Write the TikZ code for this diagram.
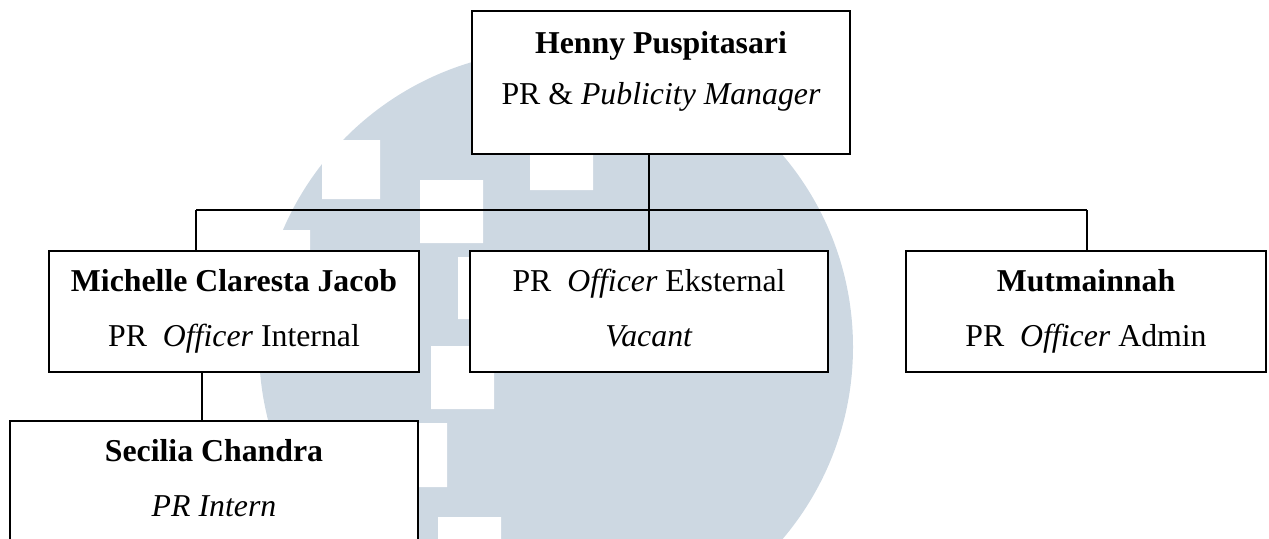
\documentclass[tikz,border=0pt]{standalone}
\usepackage{fontspec}
\setmainfont{Liberation Serif}

\definecolor{logoblue}{RGB}{205,216,226}
\newcommand{\lowdepth}[1]{\rule[-#1]{0pt}{#1}}

\tikzset{
	orgbox/.style={draw, fill=white, line width=1pt, anchor=north, align=center, inner sep=0pt,
		minimum height=60.5pt, font=\fontsize{15.9}{27.5}\selectfont}
}

\begin{document}
\begin{tikzpicture}[x=0.5pt, y=-0.5pt, line width=0.9pt]
	\useasboundingbox (0,0) rectangle (1269,538);
	\clip (0,0) rectangle (1269,538);
	% logo in the background
	\fill[logoblue] (556,347) circle (148.5pt);
	\fill[white] (322,140) rectangle (380,199)	(420,180) rectangle (483,243)
		(530,130) rectangle (593,190)	(250,230) rectangle (310,260)
		(458,257) rectangle (520,319)	(431,346) rectangle (494,409)
		(400,423) rectangle (447,487)	(438,517) rectangle (501,560);

	\node (mgr) [orgbox, minimum width=189pt, minimum height=71.5pt,
		font=\fontsize{15.9}{25.5}\selectfont] at (661,10)
		{\textbf{Henny Puspitasari}\\PR \& \textit{Publicity Manager}\lowdepth{14.75pt}};
	\node (mic) [orgbox, minimum width=185pt] 	at (234,250)
		{\textbf{Michelle Claresta Jacob}\\PR~ \textit{Officer} Internal\lowdepth{3.75pt}};
	\node (eks) [orgbox, minimum width=179pt] 	at (649,250)
		{PR~ \textit{Officer} Eksternal\\\textit{Vacant}\lowdepth{3.75pt}};
	\node (mut) [orgbox, minimum width=180pt] 	at (1086,250)
		{\textbf{Mutmainnah}\\PR~ \textit{Officer} Admin\lowdepth{3.75pt}};
	\node (sec) [orgbox, minimum width=204pt] 	at (214,420)
		{\textbf{Secilia Chandra}\\\textit{PR Intern}\lowdepth{3.75pt}};

	\coordinate (busL) at (196,210);
	\coordinate (busR) at (1087,210);
	\coordinate (sub) 	at (202,0);
	\draw (mgr.south -| eks.north) 	-- (eks.north);
	\draw (busL) 	-- (busR);
	\draw (busL) 	-- (busL |- mic.north);
	\draw (busR) 	-- (busR |- mut.north);
	\draw (sub |- mic.south) 	-- (sub |- sec.north);
\end{tikzpicture}
\end{document}
